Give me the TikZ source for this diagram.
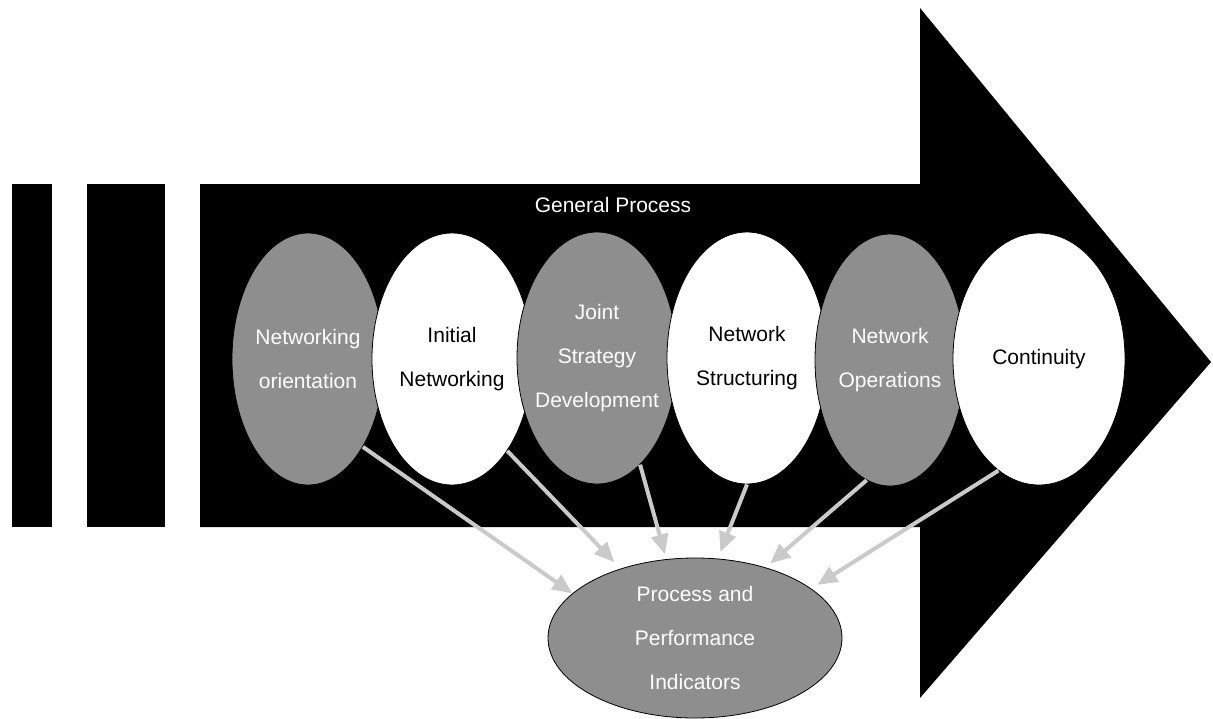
\documentclass[tikz,border=0pt]{standalone}
\usepackage{fontspec}
\setmainfont{Liberation Sans}
\usetikzlibrary{shapes.geometric,arrows.meta}
\definecolor{stagegray}{HTML}{8E8E8E}
\definecolor{arrowgray}{HTML}{CACACA}
\tikzset{
  stage/.style={ellipse, draw=black, line width=0.8pt, inner sep=0pt},
  graystage/.style={stage, fill=stagegray},
  whitestage/.style={stage, fill=white},
  lbl/.style={font=\fontsize{21}{44}\selectfont, align=center, inner sep=0pt},
  conn/.style={draw=arrowgray, line width=4pt, -{Triangle[length=20pt,width=17pt]}},
  blk/.style={fill=black, draw=none}
}
\begin{document}
\begin{tikzpicture}[x=1pt,y=-1pt]
\useasboundingbox[fill=white] (0,0) rectangle (1213,718);
% bars
\fill[blk] (12,184) rectangle (52,527);
\fill[blk] (87,184) rectangle (165,527);
% big arrow
\fill[blk] (200,184) -- (920,184) -- (920,8) -- (1211,362) -- (920,698) -- (920,527) -- (200,527) -- cycle;
\node[lbl, text=white] (gp) at (613,205) {General Process};
% stages
\node[graystage, minimum width=152pt, minimum height=252pt] (e1) at (308,359) {};
\node[lbl, text=white] (t1) at (e1) {Networking\\orientation};
\node[whitestage, minimum width=160pt, minimum height=252pt] (e2) at (452,359) {};
\node[lbl] (t2) at (e2) {Initial\\Networking};
\node[graystage, minimum width=160pt, minimum height=252pt] (e3) at (597,358) {};
\node[lbl, text=white] (t3) at (e3) {Joint\\Strategy\\Development};
\node[whitestage, minimum width=160pt, minimum height=252pt] (e4) at (747,358) {};
\node[lbl] (t4) at (e4) {Network\\Structuring};
\node[graystage, minimum width=150pt, minimum height=252pt] (e5) at (890,360) {};
\node[lbl, text=white] (t5) at (e5) {Network\\Operations};
\node[whitestage, minimum width=172pt, minimum height=252pt] (e6) at (1039,359) {};
\node[lbl] (t6) at (e6) {Continuity};
% indicators
\node[graystage, minimum width=294pt, minimum height=160pt] (pi) at (695,638) {};
\node[lbl, text=white] (tpi) at (pi) {Process and\\Performance\\Indicators};
% connectors
\draw[conn] (e1.-58) -- (pi.160);
\draw[conn, shorten >=9pt] (e2.-59) -- (pi.137);
\draw[conn, shorten >=5pt] (e3.-68) -- (pi.110);
\draw[conn, shorten >=7pt] (e4.-90) -- (pi.74);
\draw[conn, shorten >=6pt] (e5.-101) -- (pi.45);
\draw[conn, shorten >=7pt] (e6.-110) -- (pi.23);
\end{tikzpicture}
\end{document}
